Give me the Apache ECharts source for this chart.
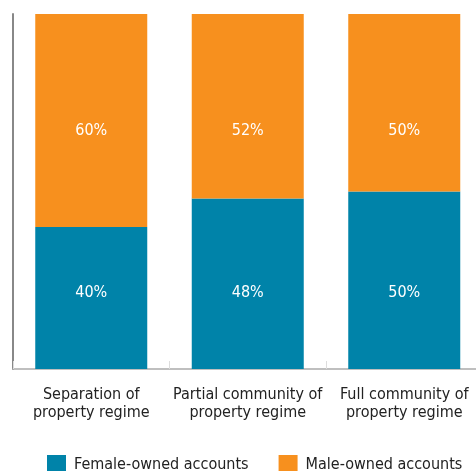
<!DOCTYPE html>
<html>
<head>
<meta charset="utf-8">
<script src="https://cdn.jsdelivr.net/npm/echarts@6/dist/echarts.min.js"></script>
<style>
  html, body { margin: 0; padding: 0; background: #fff; }
  #main { width: 476px; height: 471px; }
</style>
</head>
<body>
<div id="main"></div>
<script>
var categories = ['Separation of\nproperty regime', 'Partial community of\nproperty regime', 'Full community of\nproperty regime'];
var femaleShare = [40, 48, 50];
var maleShare = [60, 52, 50];

var font = '"Liberation Sans Narrow", "DejaVu Sans Condensed", sans-serif';

var chart = echarts.init(document.getElementById('main'));

var option = {
  animation: false,
  grid: {
    left: 13,
    right: -6.5,
    top: 14,
    bottom: 102,
    outerBoundsMode: 'none'
  },
  legend: {
    top: 455,
    left: 47,
    padding: 0,
    icon: 'rect',
    itemWidth: 19,
    itemHeight: 19,
    itemGap: 30,
    textStyle: {
      color: '#222',
      fontSize: 16,
      fontFamily: font,
      padding: [0, 0, 0, 3]
    },
    data: ['Female-owned accounts', 'Male-owned accounts']
  },
  xAxis: {
    type: 'category',
    data: categories,
    boundaryGap: true,
    axisLine: {
      show: true,
      lineStyle: { color: '#aaa', width: 1.5 }
    },
    axisTick: {
      show: true,
      inside: true,
      length: 8,
      lineStyle: { color: '#ddd' }
    },
    axisLabel: {
      interval: 0,
      hideOverlap: false,
      color: '#222',
      fontSize: 16,
      lineHeight: 18,
      margin: 17,
      fontFamily: font
    }
  },
  yAxis: {
    type: 'value',
    min: 0,
    max: 100,
    axisLine: {
      show: true,
      lineStyle: { color: '#888', width: 2 }
    },
    axisTick: { show: false },
    axisLabel: { show: false },
    splitLine: { show: false }
  },
  series: [
    {
      name: 'Female-owned accounts',
      type: 'bar',
      stack: 'total',
      barWidth: 112,
      data: femaleShare,
      itemStyle: { color: '#0083a9' },
      label: {
        show: true,
        position: 'insideBottom',
        distance: 68,
        formatter: '{c}%',
        color: '#fff',
        fontSize: 16,
        lineHeight: 16,
        fontFamily: font
      }
    },
    {
      name: 'Male-owned accounts',
      type: 'bar',
      stack: 'total',
      barWidth: 112,
      data: maleShare,
      itemStyle: { color: '#f7901e' },
      label: {
        show: true,
        position: 'insideTop',
        distance: 109,
        formatter: '{c}%',
        color: '#fff',
        fontSize: 16,
        lineHeight: 16,
        fontFamily: font
      }
    }
  ]
};

chart.setOption(option);
</script>
</body>
</html>
